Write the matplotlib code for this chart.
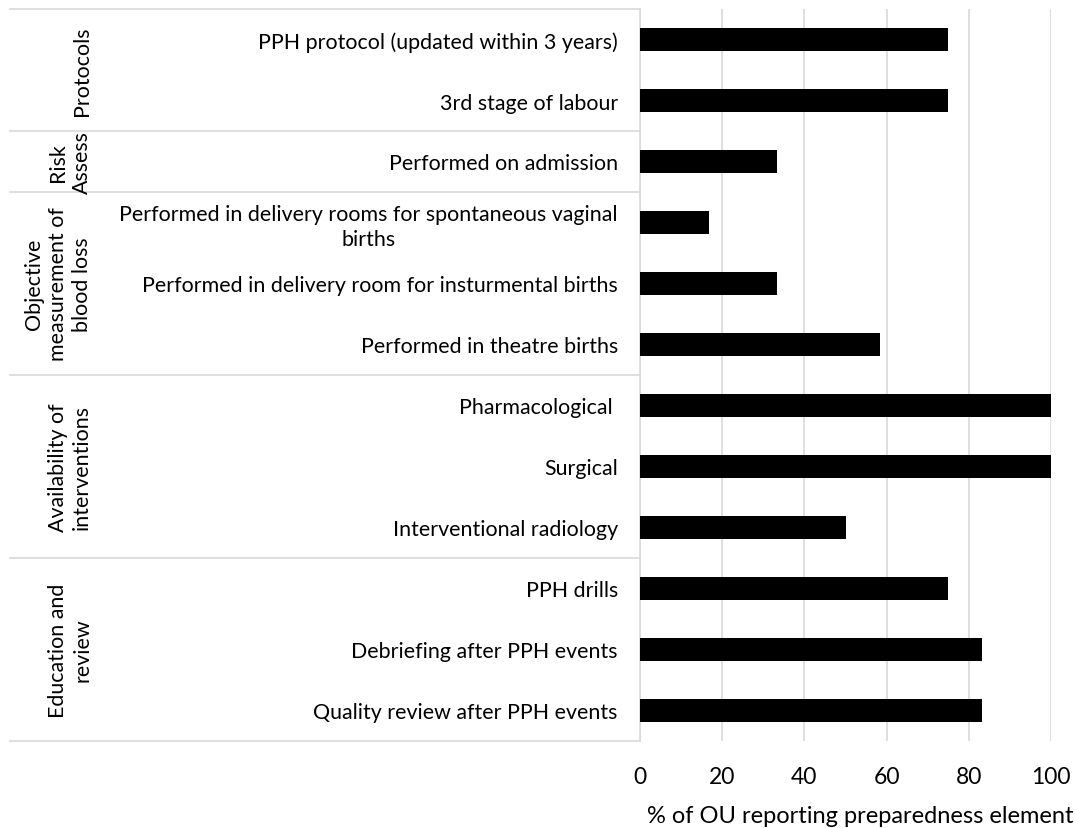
import matplotlib
matplotlib.use('Agg')
import matplotlib.pyplot as plt
from matplotlib.transforms import blended_transform_factory

plt.rcParams['font.family'] = ['Lato', 'DejaVu Sans']

# data
items = ['PPH protocol (updated within 3 years)',
         '3rd stage of labour',
         'Performed on admission',
         'Performed in delivery rooms for spontaneous vaginal\nbirths',
         'Performed in delivery room for insturmental births',
         'Performed in theatre births',
         'Pharmacological ',
         'Surgical',
         'Interventional radiology',
         'PPH drills',
         'Debriefing after PPH events',
         'Quality review after PPH events']
values = [75.0, 75.0, 33.3, 16.7, 33.3, 58.3, 100.0, 100.0, 50.0, 75.0, 83.3, 83.3]
groups = ['Protocols', 'Risk\nAssess', 'Objective\nmeasurement of\nblood loss',
          'Availability of\ninterventions', 'Education and\nreview']
group_sizes = [2, 1, 3, 3, 3]
xticks = [0, 20, 40, 60, 80, 100]
xlabel = '% of OU reporting preparedness element'

W, H = 1075, 829
fig = plt.figure(figsize=(W / 100, H / 100), dpi=100)
ax = fig.add_axes([640 / W, 1 - 742 / H, (1051 - 640) / W, (742 - 10) / H])

grey = '#d9d9d9'
y = list(range(len(items)))
ax.barh(y, values, height=0.38, color='black', zorder=3)

ax.set_xlim(0, 100)
ax.set_ylim(len(items) - 0.5, -0.5)
ax.set_xticks(xticks)
ax.set_xticklabels([str(t) for t in xticks], fontsize=16.5)
ax.set_yticks(y)
ax.set_yticklabels(items, fontsize=15.4, linespacing=1.3)
for lab in ax.get_yticklabels():
    lab.set_multialignment('center')
ax.tick_params(axis='y', length=0, pad=16)
ax.tick_params(axis='x', length=0, pad=18)
ax.grid(axis='x', color=grey, linewidth=1.2, zorder=0)
for s in ['top', 'right', 'bottom']:
    ax.spines[s].set_visible(False)
ax.spines['left'].set_color(grey)
ax.spines['left'].set_linewidth(1.2)

# group separators and labels on the left
tr = blended_transform_factory(fig.transFigure, ax.transData)
x0 = 10 / W
x1 = 640 / W
start = -0.5
ax.plot([x0, x1], [start, start], color=grey, lw=1.2, transform=tr, clip_on=False)
for g, n in zip(groups, group_sizes):
    end = start + n
    ax.plot([x0, x1], [end, end], color=grey, lw=1.2, transform=tr, clip_on=False)
    ax.text(92 / W, (start + end) / 2, g, transform=tr, rotation=90,
            ha='right', va='center', multialignment='center', fontsize=15.4,
            linespacing=1.25)
    start = end

fig.text(860 / W, 1 - 817 / H, xlabel, ha='center', va='center', fontsize=17)

fig.savefig('out.png', dpi=100)
